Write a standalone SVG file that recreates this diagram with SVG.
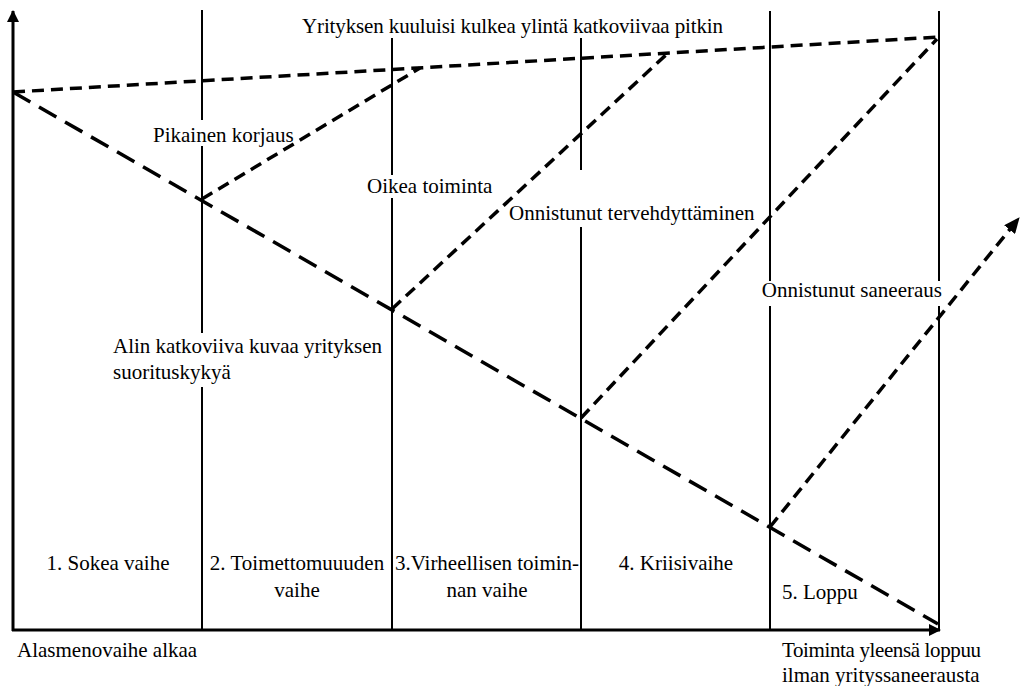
<svg xmlns="http://www.w3.org/2000/svg" width="1020" height="686" viewBox="0 0 1020 686">
<style>
text{font-family:"Liberation Serif","DejaVu Serif",serif;font-size:21px;fill:#000}
.mid{text-anchor:middle}
.vl{stroke:#000;stroke-width:2;fill:none}
.ax{stroke:#000;stroke-width:3;fill:none}
.bg{fill:#fff;stroke:none}
.dl{stroke:#000;stroke-width:3.5;fill:none;stroke-dasharray:20 10}
.ds{stroke:#000;stroke-width:3.5;fill:none;stroke-dasharray:12 7}
</style>
<defs>
<marker id="ah" markerWidth="12" markerHeight="12" refX="11" refY="6" orient="auto" markerUnits="userSpaceOnUse">
<path d="M0,0 L12,6 L0,12 Z" fill="#000"/>
</marker>
<marker id="ad" markerWidth="16" markerHeight="14" refX="15" refY="7" orient="auto" markerUnits="userSpaceOnUse">
<path d="M0,0 L16,7 L0,14 Z" fill="#000"/>
</marker>
</defs>
<rect width="1020" height="686" fill="#fff"/>
<g id="grid">
<line class="vl" x1="202" y1="10" x2="202" y2="630"/>
<line class="vl" x1="392" y1="10" x2="392" y2="630"/>
<line class="vl" x1="581" y1="10" x2="581" y2="630"/>
<line class="vl" x1="770" y1="11" x2="770" y2="630"/>
<line class="vl" x1="939" y1="11" x2="939" y2="630"/>
</g>
<g id="axes">
<line class="ax" x1="13" y1="631" x2="13" y2="11" marker-end="url(#ah)"/>
<line class="ax" x1="12" y1="630" x2="940" y2="630" marker-end="url(#ah)"/>
</g>
<g id="label-bgs">
<rect class="bg" x="298" y="9" width="430" height="29"/>
<rect class="bg" x="150" y="120" width="148" height="26"/>
<rect class="bg" x="364" y="175" width="146" height="23"/>
<rect class="bg" x="505" y="170" width="263" height="57"/>
<rect class="bg" x="748" y="281" width="197" height="25"/>
<rect class="bg" x="110" y="333" width="278" height="54"/>
</g>
<g id="connectors">
<line class="ds" x1="13" y1="92" x2="939" y2="37"/>
<line class="dl" x1="13" y1="92" x2="938" y2="624"/>
<line class="ds" x1="202" y1="199" x2="420" y2="68"/>
<line class="ds" x1="392" y1="309" x2="668" y2="53"/>
<line class="ds" x1="581" y1="418" x2="937" y2="39"/>
<line class="ds" x1="770" y1="527" x2="1019" y2="218" marker-end="url(#ad)"/>
</g>
<g id="title"><text x="302" y="33" textLength="421" lengthAdjust="spacing">Yrityksen kuuluisi kulkea ylintä katkoviivaa pitkin</text></g>
<g id="pikainen"><text x="153" y="142">Pikainen korjaus</text></g>
<g id="oikea"><text x="367" y="193">Oikea toiminta</text></g>
<g id="tervehdyttaminen"><text x="509" y="220">Onnistunut tervehdyttäminen</text></g>
<g id="saneeraus"><text x="942" y="297" text-anchor="end">Onnistunut saneeraus</text></g>
<g id="alin"><text x="113" y="353" textLength="269" lengthAdjust="spacing">Alin katkoviiva kuvaa yrityksen</text><text x="113" y="379">suorituskykyä</text></g>
<g id="phase1"><text class="mid" x="108" y="570">1. Sokea vaihe</text></g>
<g id="phase2"><text class="mid" x="297" y="570">2. Toimettomuuuden</text><text class="mid" x="297" y="597">vaihe</text></g>
<g id="phase3"><text class="mid" x="487" y="570">3.Virheellisen toimin-</text><text class="mid" x="487" y="597">nan vaihe</text></g>
<g id="phase4"><text class="mid" x="676" y="570">4. Kriisivaihe</text></g>
<g id="phase5"><text x="782" y="599">5. Loppu</text></g>
<g id="start"><text x="17" y="657">Alasmenovaihe alkaa</text></g>
<g id="end"><text x="782" y="657" textLength="199" lengthAdjust="spacing">Toiminta yleensä loppuu</text><text x="782" y="682">ilman yrityssaneerausta</text></g>
</svg>
